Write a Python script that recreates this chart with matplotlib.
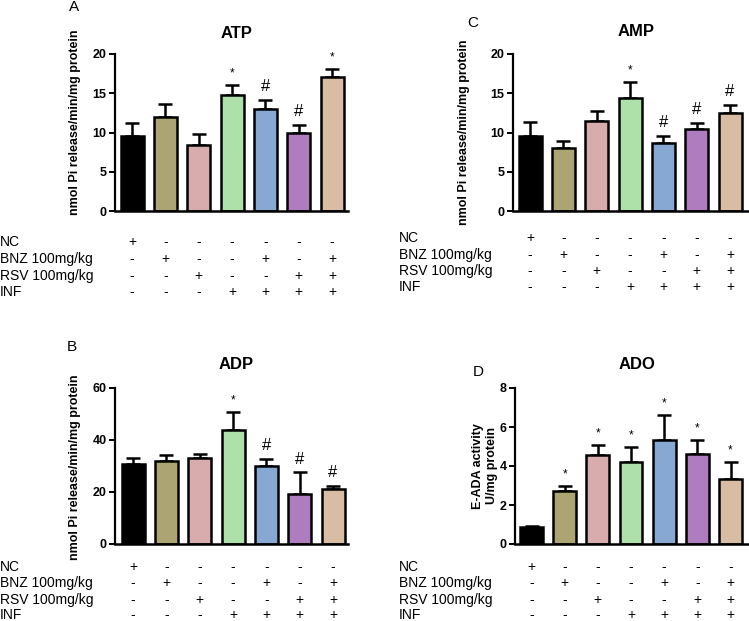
import matplotlib
matplotlib.use("Agg")
import matplotlib.pyplot as plt
import matplotlib.transforms as mtransforms

plt.rcParams['font.family'] = ['Liberation Sans', 'DejaVu Sans']

W, H = 749, 621

colors = ['#000000', '#ada474', '#d8acac', '#aee0aa', '#88a8d4', '#b07cc0', '#d8bca4']

row_names = ['NC', 'BNZ 100mg/kg', 'RSV 100mg/kg', 'INF']
nc_row = ['+', '-', '-', '-', '-', '-', '-']
bnz_row = ['-', '+', '-', '-', '+', '-', '+']
rsv_row = ['-', '-', '+', '-', '-', '+', '+']
inf_row = ['-', '-', '-', '+', '+', '+', '+']
table_rows = [nc_row, bnz_row, rsv_row, inf_row]

atp_mean = [9.5, 12.0, 8.4, 14.8, 13.0, 10.0, 17.1]
atp_err = [1.7, 1.6, 1.4, 1.3, 1.2, 1.0, 1.0]
atp_marks = ['', '', '', '*', '#', '#', '*']

adp_mean = [30.6, 31.9, 32.9, 44.0, 30.1, 19.2, 21.0]
adp_err = [2.3, 2.2, 1.7, 6.9, 2.7, 8.4, 1.4]
adp_marks = ['', '', '', '*', '#', '#', '#']

amp_mean = [9.6, 8.0, 11.5, 14.4, 8.6, 10.45, 12.5]
amp_err = [1.7, 0.9, 1.3, 2.0, 0.95, 0.8, 1.05]
amp_marks = ['', '', '', '*', '#', '#', '#']

ado_mean = [0.86, 2.7, 4.55, 4.2, 5.34, 4.62, 3.34]
ado_err = [0.06, 0.25, 0.55, 0.75, 1.26, 0.71, 0.84]
ado_marks = ['', '*', '*', '*', '*', '*', '*']


def make_panel(px_left, px_right, px_top, px_bot, c0, c6, ymax, yticks,
               means, errs, marks, title, ylabel, letter, letter_xy,
               title_y, ylabel_xy, table_ys, label_x):
    unit = (c6 - c0) / 6.0
    ax = fig.add_axes([px_left / W, 1 - px_bot / H,
                       (px_right - px_left) / W, (px_bot - px_top) / H])
    xs = list(range(len(means)))
    ax.bar(xs, means, width=0.69, color=colors, edgecolor='black', linewidth=1.8,
           zorder=2)
    for i in xs:
        ax.errorbar(i, means[i], yerr=[[0], [errs[i]]], fmt='none', ecolor='black',
                    elinewidth=1.8, capsize=5, capthick=1.8, zorder=1)
        if marks[i]:
            fs = 8.5 if marks[i] == '*' else 12
            ax.annotate(marks[i], (i, means[i] + errs[i]), xytext=(0, 4),
                        textcoords='offset points', ha='center', va='bottom',
                        fontsize=fs)
    ax.set_xlim((px_left - c0) / unit, (px_right - c0) / unit)
    ax.set_ylim(0, ymax)
    ax.set_yticks(yticks)
    ax.set_xticks([])
    for s in ['top', 'right']:
        ax.spines[s].set_visible(False)
    ax.spines['left'].set_linewidth(1.6)
    ax.spines['bottom'].set_linewidth(1.8)
    ax.tick_params(axis='y', length=4, width=1.4, labelsize=9, pad=2)
    for lab in ax.get_yticklabels():
        lab.set_fontweight('bold')
    ax.patch.set_alpha(0)

    fig.text(((px_left + px_right) / 2 + 5) / W, 1 - title_y / H, title,
             ha='center', va='center', fontsize=12, fontweight='bold')
    fig.text(ylabel_xy[0] / W, 1 - ylabel_xy[1] / H, ylabel, rotation=90,
             ha='center', va='center', fontsize=9, fontweight='bold',
             linespacing=1.15)
    fig.text(letter_xy[0] / W, 1 - letter_xy[1] / H, letter, ha='center',
             va='center', fontsize=11)

    trans = mtransforms.blended_transform_factory(ax.transData, fig.transFigure)
    for r, row in enumerate(table_rows):
        yy = 1 - table_ys[r] / H
        fig.text(label_x / W, yy, row_names[r], ha='left', va='center',
                 fontsize=10)
        for i, sym in enumerate(row):
            ax.text(i, yy, sym, transform=trans, ha='center', va='center',
                    fontsize=10, clip_on=False)
    return ax


fig = plt.figure(figsize=(W / 100, H / 100), dpi=100)

make_panel(115, 348, 54, 211, 132, 332, 20, [0, 5, 10, 15, 20],
           atp_mean, atp_err, atp_marks, 'ATP',
           'nmol Pi release/min/mg protein', 'A', (74, 7), 33, (75, 122),
           [242, 259, 276, 292], 0)

make_panel(513, 749, 54, 211, 530, 730, 20, [0, 5, 10, 15, 20],
           amp_mean, amp_err, amp_marks, 'AMP',
           'nmol Pi release/min/mg protein', 'C', (473, 23), 32, (464, 132),
           [238, 255, 271, 287], 399)

make_panel(115, 348, 388, 544, 133, 333, 60, [0, 20, 40, 60],
           adp_mean, adp_err, adp_marks, 'ADP',
           'nmol Pi release/min/mg protein', 'B', (72, 347), 365, (75, 467),
           [567, 583, 600, 615], 0)

make_panel(515, 749, 388, 544, 531.5, 730.5, 8, [0, 2, 4, 6, 8],
           ado_mean, ado_err, ado_marks, 'ADO',
           'E-ADA activity\nU/mg protein', 'D', (478, 372), 365, (485, 466),
           [567, 583, 600, 615], 399)

fig.savefig('out.png', dpi=100)
